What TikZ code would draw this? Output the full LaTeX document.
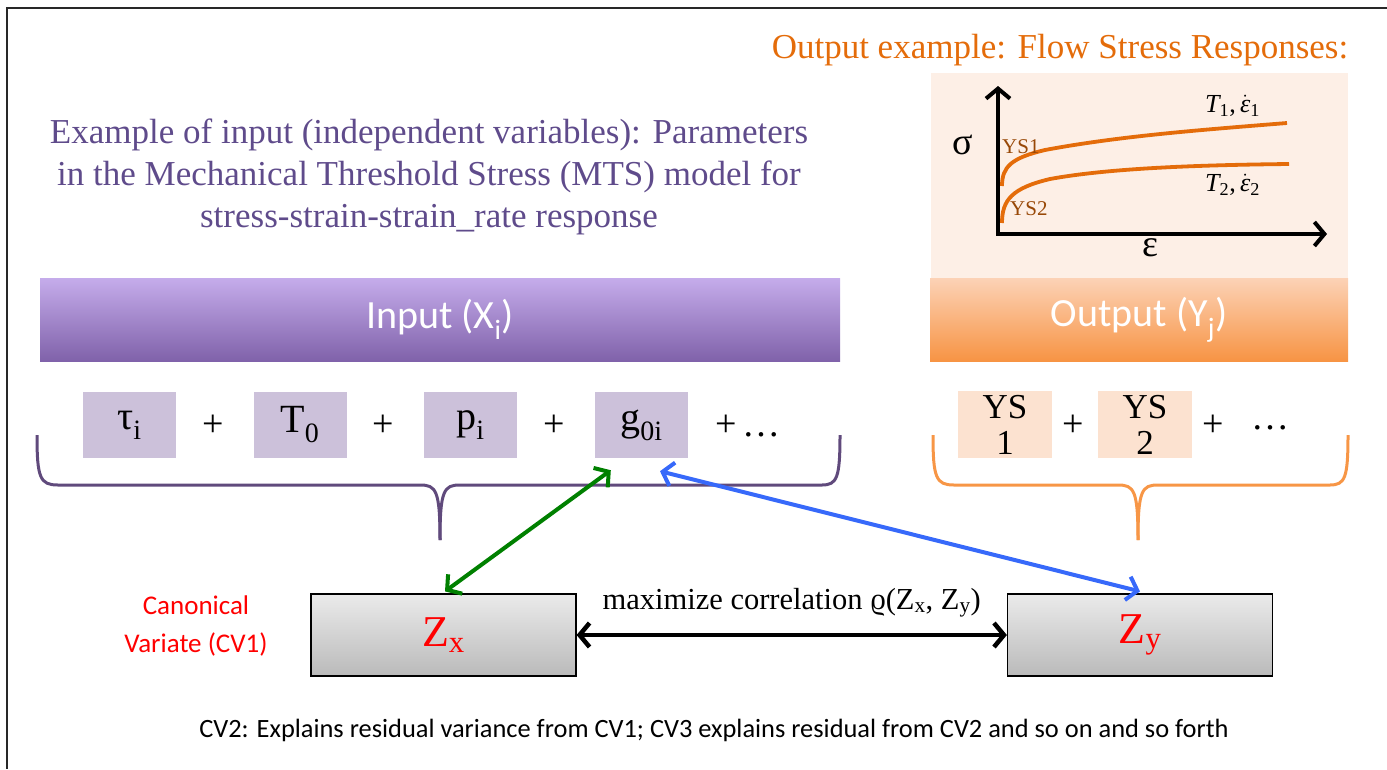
\documentclass[tikz,border=0pt]{standalone}
\usepackage{fontspec}
\setmainfont{Liberation Serif}
\newfontfamily\calib{Carlito}
\usetikzlibrary{arrows.meta,calc}

\definecolor{framegray}{RGB}{40,40,40}
\definecolor{titlepurple}{RGB}{95,75,139}
\definecolor{bracepurple}{RGB}{96,74,124}
\definecolor{titleorange}{RGB}{228,108,10}
\definecolor{braceorange}{RGB}{247,150,70}
\definecolor{curveorange}{RGB}{228,108,10}
\definecolor{ysbrown}{RGB}{152,72,7}
\definecolor{plotbg}{RGB}{253,239,230}
\definecolor{inbartop}{RGB}{197,172,235}
\definecolor{inbarbot}{RGB}{128,98,170}
\definecolor{outbartop}{RGB}{252,210,182}
\definecolor{outbarbot}{RGB}{247,148,68}
\definecolor{infill}{RGB}{204,193,218}
\definecolor{outfill}{RGB}{252,226,208}
\definecolor{cvgreen}{RGB}{0,128,0}
\definecolor{cvblue}{RGB}{55,105,250}

% italic epsilon with a rate dot
\newcommand{\epsrate}{$\dot{\hbox{\itshape ε}}$}

\tikzset{
  barb/.tip={Straight Barb[length=10pt,width=24pt]},
  axtip/.tip={Straight Barb[length=10pt,width=24pt]},
  headbar/.style={minimum width=#1, minimum height=83pt, inner sep=0pt, text=white},
  inbar/.style={headbar=800pt, top color=inbartop, bottom color=inbarbot},
  outbar/.style={headbar=418pt, top color=outbartop, bottom color=outbarbot},
  initem/.style={fill=infill, minimum width=93pt, minimum height=66pt, inner sep=0pt,
    font=\fontsize{40}{42}\selectfont},
  outitem/.style={fill=outfill, minimum width=94pt, minimum height=67pt, inner sep=0pt,
    align=center, font=\fontsize{35}{36}\selectfont},
  plus/.style={font=\fontsize{38}{40}\selectfont, inner sep=0pt},
  cvbox/.style={draw=black, line width=1.2pt, top color=black!8, bottom color=black!27,
    minimum width=265pt, minimum height=82pt, inner sep=0pt, text=red,
    font=\fontsize{44}{46}\selectfont},
  purplebrace/.style={draw=bracepurple, line width=3pt},
  orangebrace/.style={draw=braceorange, line width=3pt},
  link/.style={line width=4pt, barb-barb},
  curve/.style={draw=curveorange, line width=3.8pt},
  curvelab/.style={font=\fontsize{26}{28}\selectfont, anchor=west, inner sep=0pt},
}

\begin{document}
\begin{tikzpicture}[x=1pt,y=-1pt]
\useasboundingbox (0,0) rectangle (1387,769);

% page frame
\draw[line width=2pt, framegray] (1387,8) -- (7,8) -- (7,769);

% headings
\node[text=titlepurple, align=center, font=\fontsize{35}{42}\selectfont] (intitle) at (429,177)
  {Example of input (independent variables): Parameters\\
   in the Mechanical Threshold Stress (MTS) model for\\
   stress-strain-strain\_rate response};
\node[text=titleorange, font=\fontsize{35}{38}\selectfont] (outtitle) at (1060,50)
  {Output example: Flow Stress Responses:};

% flow stress plot
\fill[plotbg] (931,73) rectangle (1348,278);
\coordinate (o) at (998,234);
\coordinate (ytop) at (998,86);
\coordinate (xend) at (1327,234);
\draw[line width=4pt, axtip-] (ytop) -- (998,236);
\draw[line width=4pt, -axtip] (996,234) -- (xend);
\draw[curve] (1002,186) .. controls (1002,167) and (1011,158) .. (1045,150)
  .. controls (1120,136) and (1200,130) .. (1287,123);
\draw[curve] (1002,223) .. controls (1002,200) and (1012,188) .. (1050,179)
  .. controls (1110,168) and (1200,165) .. (1289,164);
\node[font=\fontsize{38}{40}\selectfont] (sig) at (963,145) {σ};
\node[font=\fontsize{38}{40}\selectfont] (eps) at (1150,248) {ε};
\node[text=ysbrown, font=\fontsize{21}{23}\selectfont, anchor=west, inner sep=0pt] (ys1lab) at (1002,147) {YS1};
\node[text=ysbrown, font=\fontsize{21}{23}\selectfont, anchor=west, inner sep=0pt] (ys2lab) at (1010,209) {YS2};
\node[curvelab] (t1lab) at (1205,106) {{\itshape T}\textsubscript{1},\,\epsrate\textsubscript{1}};
\node[curvelab] (t2lab) at (1205,185) {{\itshape T}\textsubscript{2},\,\epsrate\textsubscript{2}};

% header bars
\node[inbar] (inbar) at (440,319.5) {\calib\fontsize{40}{44}\selectfont Input (X\textsubscript{i})};
\node[outbar] (outbar) at (1139,319.5) {\calib\fontsize{40}{44}\selectfont Output (Y\textsubscript{j})};

% input parameters
\node[initem] (tau) at (129.5,425) {τ\textsubscript{i}};
\node[initem] (t0) at (300,425) {T\textsubscript{0}};
\node[initem] (pi) at (470.5,425) {p\textsubscript{i}};
\node[initem] (g0i) at (641.5,425) {g\textsubscript{0i}};
\node[plus] (pl1) at (213,426) {+};
\node[plus] (pl2) at (383,426) {+};
\node[plus] (pl3) at (554,426) {+};
\node[plus] (pl4) at (748,426) {+\,…};

% output responses
\node[outitem] (ys1) at (1005,424.5) {YS\\1};
\node[outitem] (ys2) at (1145,424.5) {YS\\2};
\node[plus] (pl5) at (1073,426) {+};
\node[plus] (pl6) at (1213,426) {+};
\node[plus] (pl7) at (1270,428) {…};

% braces
\path[purplebrace] (37,435) .. controls (37,478) and (40,485) .. (58,485) -- (420,485)
  .. controls (436,485) and (440,490) .. (440,540);
\path[purplebrace] (840,435) .. controls (840,478) and (837,485) .. (822,485) -- (460,485)
  .. controls (444,485) and (440,490) .. (440,540);
\path[orangebrace] (933,435) .. controls (933,478) and (936,485) .. (954,485) -- (1118,485)
  .. controls (1134,485) and (1138,490) .. (1138,540);
\path[orangebrace] (1348,435) .. controls (1348,478) and (1345,485) .. (1330,485) -- (1158,485)
  .. controls (1142,485) and (1138,490) .. (1138,540);

% canonical variates
\node[cvbox] (zx) at (443.5,635) {Z\textsubscript{x}};
\node[cvbox] (zy) at (1140,635) {Z\textsubscript{y}};
\node[text=red, align=center, font=\calib\fontsize{27}{38}\selectfont] (cvlab) at (196,626)
  {Canonical\\Variate (CV1)};

% connectors
\draw[link, line width=4.5pt, black] (zx.east) -- (zy.west)
  node[midway, above=12pt, font=\fontsize{30.5}{32}\selectfont, text=black] (maxcorr)
  {maximize correlation ϱ(Z\textsubscript{x}, Z\textsubscript{y})};
\draw[link, cvgreen] ([shift={(1.5,-2)}]zx.north) -- ([shift={(16,12)}]g0i.south west);
\draw[link, cvblue] ([shift={(18.5,13)}]g0i.south) -- ([shift={(0,-2)}]zy.north);

% footnote
\node[font=\calib\fontsize{26.4}{30}\selectfont] (note) at (714,730)
  {CV2: Explains residual variance from CV1; CV3 explains residual from CV2 and so on and so forth};
\end{tikzpicture}
\end{document}
